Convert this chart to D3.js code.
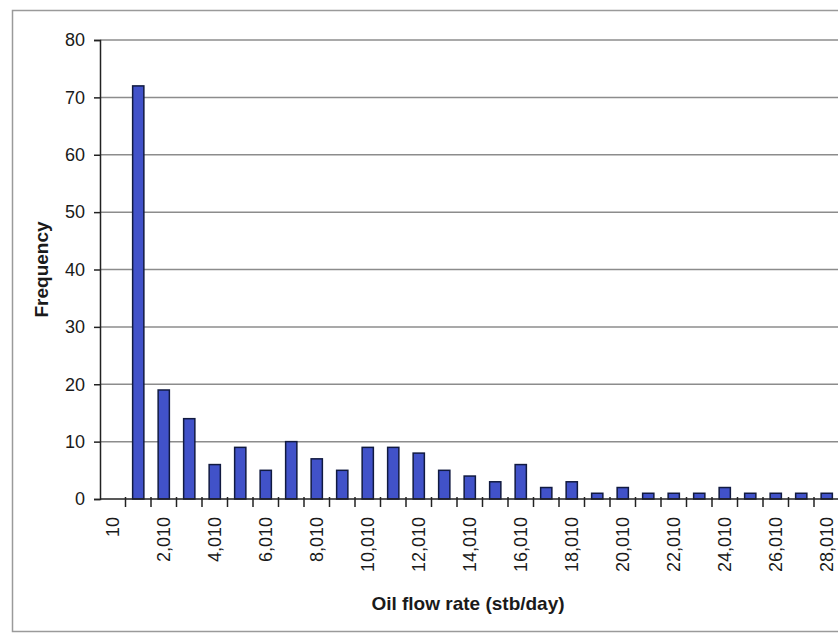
<!DOCTYPE html>
<html>
<head>
<meta charset="utf-8">
<script src="https://cdn.jsdelivr.net/npm/d3@7"></script>
<style>
  body { margin: 0; background: #fff; }
  svg { display: block; font-family: "Liberation Sans", Arial, sans-serif; }
  .tick text { font-size: 18px; fill: #1a1a1a; }
  .axis-title { font-size: 19px; font-weight: bold; fill: #1a1a1a; }
</style>
</head>
<body>
<div id="chart"></div>
<script>
// histogram bins (stb/day) and counts
const bins = [10, 1010, 2010, 3010, 4010, 5010, 6010, 7010, 8010, 9010,
  10010, 11010, 12010, 13010, 14010, 15010, 16010, 17010, 18010, 19010,
  20010, 21010, 22010, 23010, 24010, 25010, 26010, 27010, 28010];
const frequency = [0, 72, 19, 14, 6, 9, 5, 10, 7, 5,
  9, 9, 8, 5, 4, 3, 6, 2, 3, 1,
  2, 1, 1, 1, 2, 1, 1, 1, 1];
const yTicks = [0, 10, 20, 30, 40, 50, 60, 70, 80];

const width = 838, height = 633;
const margin = {top: 40, right: -2, bottom: 134, left: 100};

const svg = d3.select('#chart').append('svg')
    .attr('width', width)
    .attr('height', height);

// outer chart frame (cropped on the right in the scan)
svg.append('rect')
    .attr('x', 12.5).attr('y', 10.5)
    .attr('width', 840).attr('height', 621)
    .attr('fill', 'none')
    .attr('stroke', '#9a9a9a')
    .attr('stroke-width', 1.5);

const x = d3.scaleBand()
    .domain(bins)
    .range([margin.left, margin.left + bins.length * 25.5])
    .paddingInner(0.56)
    .paddingOuter(0.28);

const y = d3.scaleLinear()
    .domain([0, 80])
    .range([height - margin.bottom, margin.top]);

// gridlines
svg.append('g')
    .selectAll('line')
    .data(yTicks.filter(d => d > 0))
  .join('line')
    .attr('x1', margin.left)
    .attr('x2', width)
    .attr('y1', d => y(d))
    .attr('y2', d => y(d))
    .attr('stroke', '#8c8c8c')
    .attr('stroke-width', 1.5);

// bars
svg.append('g')
    .selectAll('rect')
    .data(bins.map((b, i) => ({bin: b, value: frequency[i]})).filter(d => d.value > 0))
  .join('rect')
    .attr('x', d => x(d.bin))
    .attr('y', d => y(d.value))
    .attr('width', x.bandwidth())
    .attr('height', d => y(0) - y(d.value))
    .attr('fill', '#4152c9')
    .attr('stroke', '#111a40')
    .attr('stroke-width', 1.5);

// y axis
const yAxis = svg.append('g')
    .attr('transform', `translate(${margin.left},0)`)
    .call(d3.axisLeft(y).tickValues(yTicks).tickSize(6).tickPadding(9));
yAxis.select('.domain').attr('stroke', '#222').attr('stroke-width', 1.5);
yAxis.selectAll('.tick line').attr('stroke', '#222').attr('stroke-width', 1.5);

// x axis: ticks sit between categories
const step = x.step();
const xAxisG = svg.append('g')
    .attr('transform', `translate(0,${y(0)})`);
xAxisG.append('line')
    .attr('x1', margin.left).attr('x2', width)
    .attr('stroke', '#222').attr('stroke-width', 1.5);
xAxisG.selectAll('.xtick')
    .data(bins.slice(1))
  .join('line')
    .attr('class', 'xtick')
    .attr('x1', d => x(d) - x.bandwidth() * 0.5 - (step - x.bandwidth()) / 2 + x.bandwidth() / 2)
    .attr('x2', d => x(d) - x.bandwidth() * 0.5 - (step - x.bandwidth()) / 2 + x.bandwidth() / 2)
    .attr('y1', -2)
    .attr('y2', 8)
    .attr('stroke', '#222')
    .attr('stroke-width', 1.5);

xAxisG.selectAll('.xlabel')
    .data(bins.filter((d, i) => i % 2 === 0))
  .join('text')
    .attr('class', 'xlabel tick')
    .attr('transform', d => `translate(${x(d) + x.bandwidth() / 2},18) rotate(-90)`)
    .attr('text-anchor', 'end')
    .attr('dy', '0.35em')
    .style('font-size', '18px')
    .attr('fill', '#1a1a1a')
    .text(d => d3.format(',')(d));

// axis titles
svg.append('text')
    .attr('class', 'axis-title')
    .attr('transform', `translate(48,${(y(0) + y(80)) / 2}) rotate(-90)`)
    .attr('text-anchor', 'middle')
    .text('Frequency');

svg.append('text')
    .attr('class', 'axis-title')
    .attr('x', 468)
    .attr('y', 610)
    .attr('text-anchor', 'middle')
    .text('Oil flow rate (stb/day)');
</script>
</body>
</html>
